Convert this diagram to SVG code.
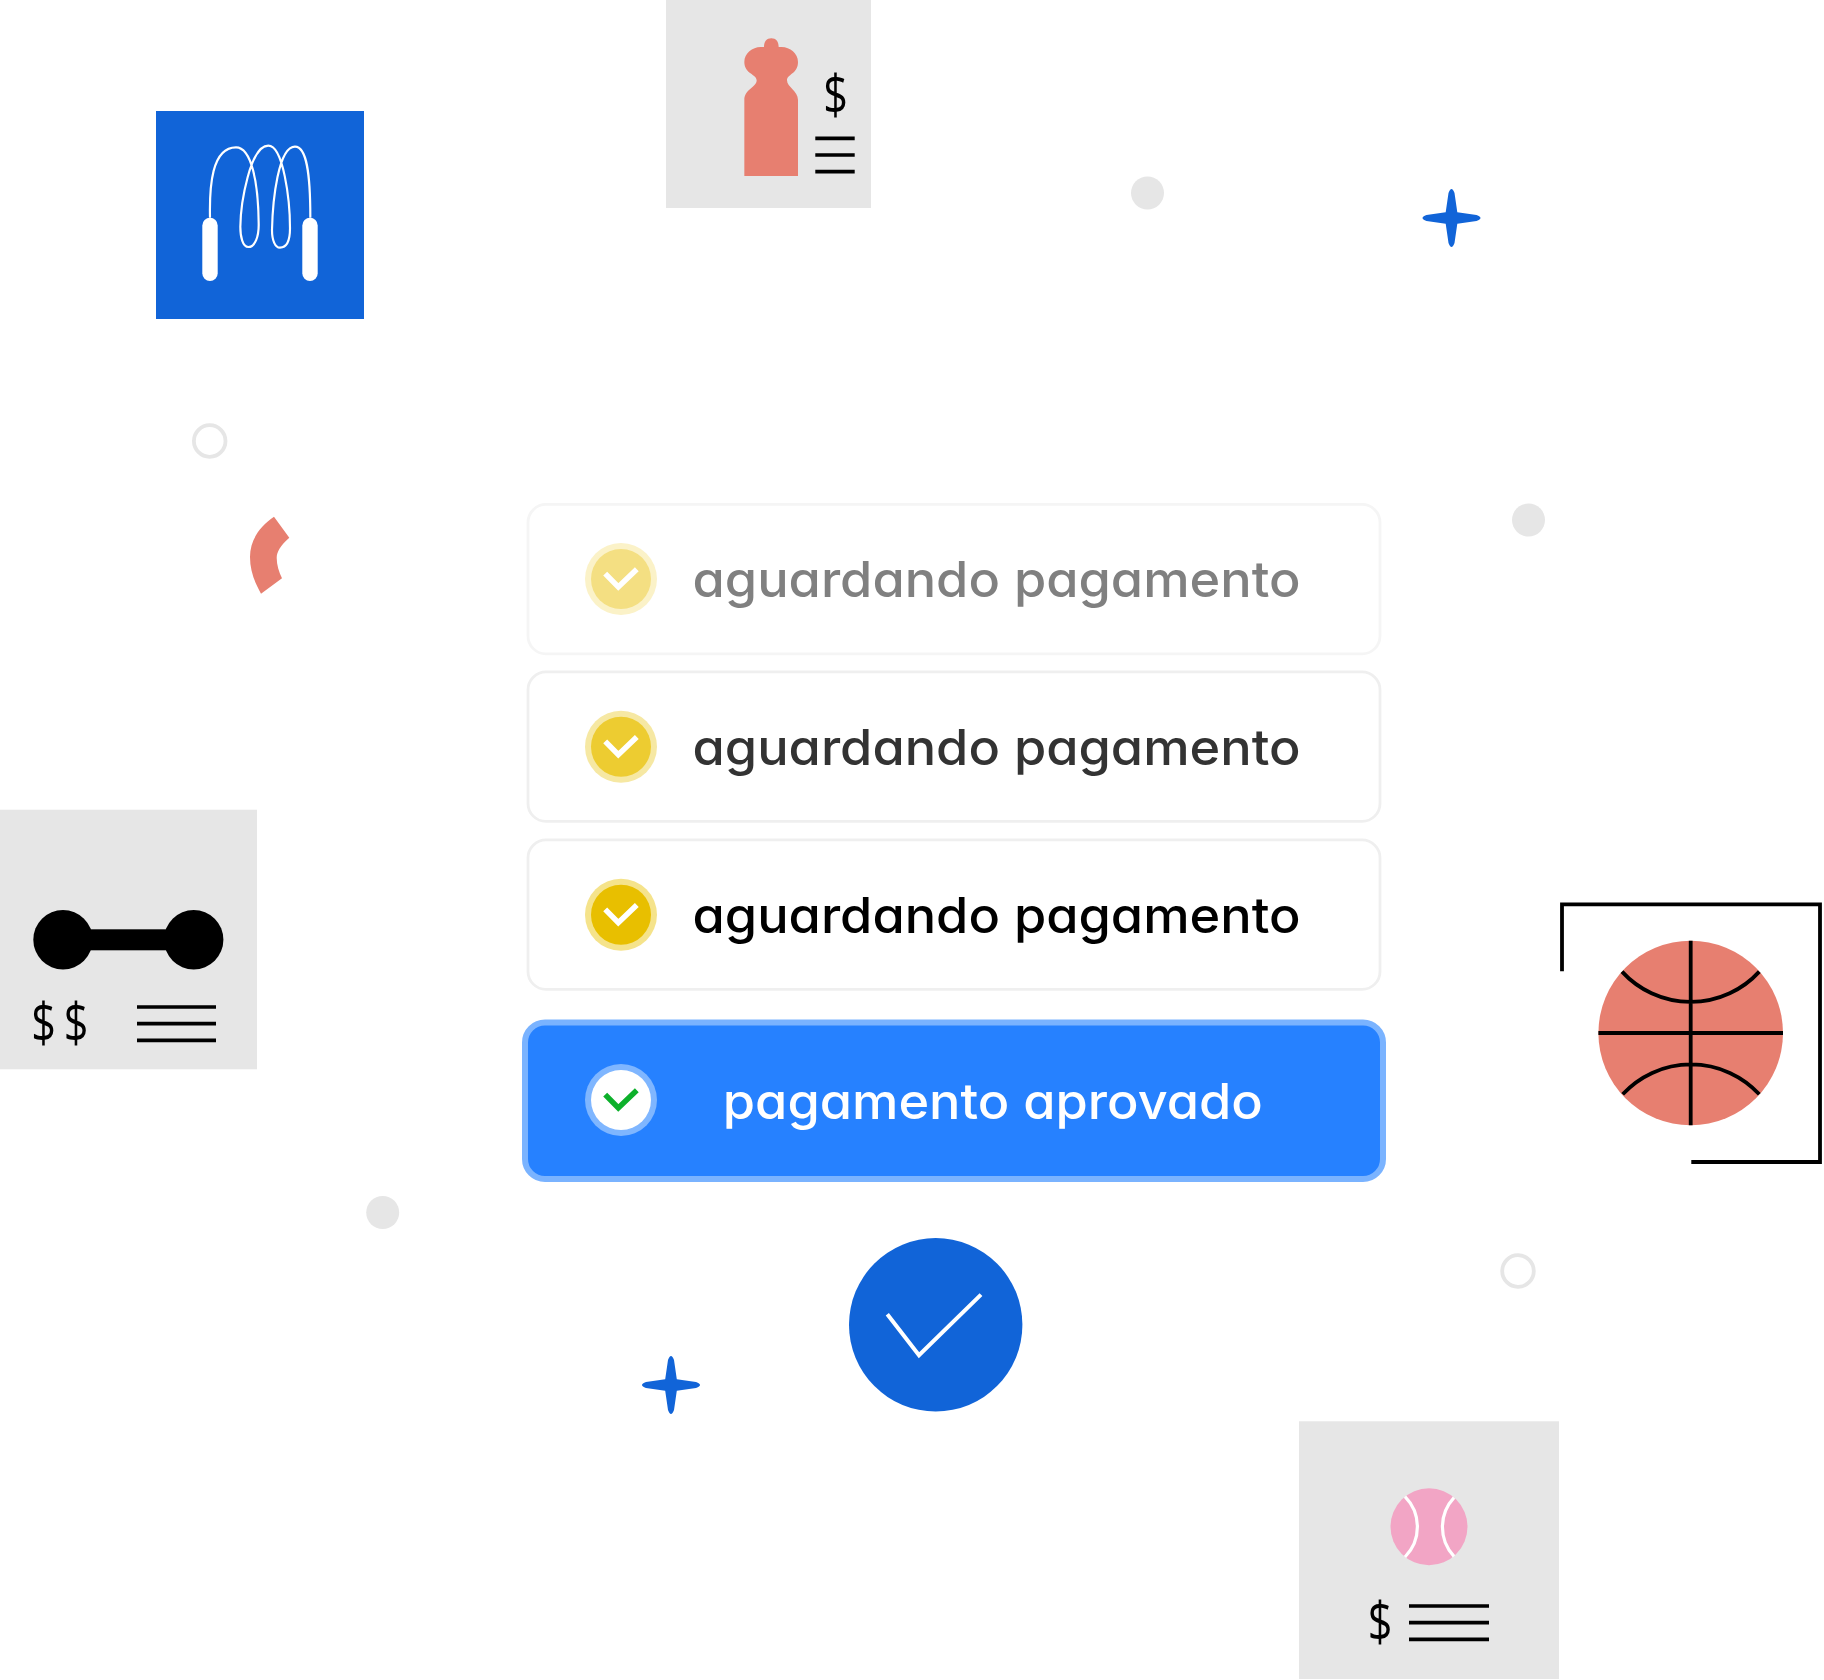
<svg xmlns="http://www.w3.org/2000/svg" width="1824" height="1680" viewBox="0 0 1824 1680">
<style>
.box{fill:#e6e6e6}
.ln{stroke:#000;stroke-width:3.700;fill:none}
.dot{fill:#e6e6e6}
.ring{fill:#fff;stroke:#e6e6e6;stroke-width:3.800}
.star{fill:#1164d8}
.usd{font-family:"Open Sans","Noto Sans",sans-serif;font-size:54px;font-weight:400;fill:#000;text-anchor:middle}
.lbl{font-family:Inter,"Liberation Sans",sans-serif;font-size:50px;font-weight:500;font-feature-settings:"cv11" 1,"ss03" 1;}
.chk{fill:none;stroke-width:5.500}
.row{fill:#fff;stroke-width:2.800}
</style>
<defs>
<path id="s" d="M-3 -25Q0 -33 3 -25L5.800 -5.800L25 -3Q33 0 25 3L5.800 5.800L3 25Q0 33 -3 25L-5.800 5.800L-25 3Q-33 0 -25 -3L-5.800 -5.800Z"/>
<polyline id="c" points="-15.800,-5.400 -2.700,8 15.800,-9.800"/>
</defs>
<rect width="1824" height="1680" fill="#fff"/>

<g id="rope">
<rect x="156" y="111" width="208" height="208" fill="#1164d8"/>
<rect x="202.300" y="217.700" width="15.400" height="63.300" rx="7.700" fill="#fff"/>
<rect x="302.300" y="217.700" width="15.400" height="63.300" rx="7.700" fill="#fff"/>
<path transform="translate(130 90) scale(.33333)" fill="none" stroke="#fff" stroke-width="6.500" d="M240 383C238 290 245 172 318 172C365 172 385 280 386 400C387 440 375 471 355 471C338 471 331 440 331 410C332 340 360 167 415 167C460 167 480 330 480 415C480 450 470 473 450 473C435 473 426 450 426 420C428 330 445 170 495 170C530 170 541 250 541 383"/>
</g>

<g id="bottle">
<rect class="box" x="666" y="0" width="205" height="208"/>
<path transform="translate(650 0) scale(.33333)" fill="#e77f70" d="M283 528H444V300C444 272 411 262 411 241C411 222 444 222 444 186C444 160 420 141 395 141H386C386 125 378 115 364 115C350 115 342 125 342 141H332C307 141 283 160 283 186C283 222 320 222 320 241C320 262 283 268 283 300Z"/>
<text class="usd" transform="translate(835.500 114.400) scale(.8 1)">$</text>
<path class="ln" d="M815.300 138.300H854.700M815.300 155H854.700M815.300 171.700H854.700"/>
</g>

<g id="deco">
<circle class="dot" cx="1147.500" cy="193" r="16.500"/>
<circle class="dot" cx="1528.500" cy="520" r="16.500"/>
<circle class="dot" cx="382.700" cy="1212.500" r="16.500"/>
<circle class="ring" cx="209.700" cy="441" r="15.800"/>
<circle class="ring" cx="1518" cy="1271" r="15.800"/>
<use href="#s" class="star" x="1451.500" y="218"/>
<use href="#s" class="star" x="671" y="1385"/>
<path fill="#e77f70" d="M274 516.700L289.300 537.700C280 546 276.700 552 276.700 558C276.700 565 279 572 282 578.300L261 593.700C254 581 250 570 250 557C250 540 260 526 274 516.700Z"/>
</g>

<g id="row1">
<rect class="row" x="528" y="504.400" width="852" height="149.500" rx="18" stroke="#f5f5f5"/>
<circle cx="621" cy="579" r="36" fill="#fbf2c8"/><circle cx="621" cy="579" r="30" fill="#f4df82"/>
<use href="#c" class="chk" x="621" y="579" stroke="#fff"/>
<text class="lbl" x="692.500" y="597" fill="#808080" textLength="608" lengthAdjust="spacingAndGlyphs">aguardando pagamento</text>
</g>
<g id="row2">
<rect class="row" x="528" y="671.900" width="852" height="149.500" rx="18" stroke="#efefef"/>
<circle cx="621" cy="746.700" r="36" fill="#f6e8a3"/><circle cx="621" cy="746.700" r="30" fill="#edcc31"/>
<use href="#c" class="chk" x="621" y="746.700" stroke="#fff"/>
<text class="lbl" x="692.500" y="765" fill="#333" textLength="608" lengthAdjust="spacingAndGlyphs">aguardando pagamento</text>
</g>
<g id="row3">
<rect class="row" x="528" y="839.900" width="852" height="149.500" rx="18" stroke="#efefef"/>
<circle cx="621" cy="914.700" r="36" fill="#f5e38b"/><circle cx="621" cy="914.700" r="30" fill="#e8bf00"/>
<use href="#c" class="chk" x="621" y="914.700" stroke="#fff"/>
<text class="lbl" x="692.500" y="933" fill="#000" textLength="608" lengthAdjust="spacingAndGlyphs">aguardando pagamento</text>
</g>
<g id="row4">
<rect x="525" y="1022.500" width="858" height="156.500" rx="20" fill="#2681ff" stroke="#7ab3ff" stroke-width="6"/>
<circle cx="621" cy="1100" r="36" fill="#7fb6ff"/><circle cx="621" cy="1100" r="30" fill="#fff"/>
<use href="#c" class="chk" x="621" y="1100" stroke="#0db02b"/>
<text class="lbl" x="722.800" y="1119" fill="#fff" textLength="540" lengthAdjust="spacingAndGlyphs">pagamento aprovado</text>
</g>

<g id="dumbbell">
<rect class="box" x="0" y="809.700" width="257" height="259.600"/>
<circle cx="63" cy="939.700" r="29.700"/><circle cx="193.700" cy="939.700" r="29.700"/>
<rect x="63" y="929.300" width="130" height="21"/>
<text class="usd" transform="translate(43.500 1042.200) scale(.8 1)">$</text>
<text class="usd" transform="translate(76 1042.200) scale(.8 1)">$</text>
<path class="ln" d="M137 1007H216M137 1023.700H216M137 1040.300H216"/>
</g>

<g id="basketball">
<path fill="none" stroke="#000" stroke-width="3.800" d="M1562 971.200V904.400H1820V1162H1691.300"/>
<circle cx="1690.700" cy="1033" r="92.300" fill="#e77f70"/>
<path fill="none" stroke="#000" stroke-width="3.800" d="M1690.700 940.700V1125.300M1598.400 1033H1783M1622 971.600A93 93 0 0 0 1759.300 971.600M1622.700 1094.300A93 93 0 0 1 1759.300 1094.300"/>
</g>

<g id="check">
<circle cx="935.700" cy="1324.800" r="86.700" fill="#1164d8"/>
<polyline points="887.300,1314.300 919,1355.300 981,1294.600" fill="none" stroke="#fff" stroke-width="4"/>
</g>

<g id="tennis">
<rect class="box" x="1299" y="1421.300" width="260" height="257.700"/>
<circle cx="1429" cy="1526.800" r="38.500" fill="#f2a5c5"/>
<path fill="none" stroke="#fff" stroke-width="3.200" d="M1405 1496.600A43 43 0 0 1 1405 1557M1454 1497.600A43 43 0 0 0 1454 1556.300"/>
<text class="usd" transform="translate(1380 1641.200) scale(.8 1)">$</text>
<path class="ln" d="M1409 1606H1489M1409 1622.600H1489M1409 1639.300H1489"/>
</g>
</svg>
